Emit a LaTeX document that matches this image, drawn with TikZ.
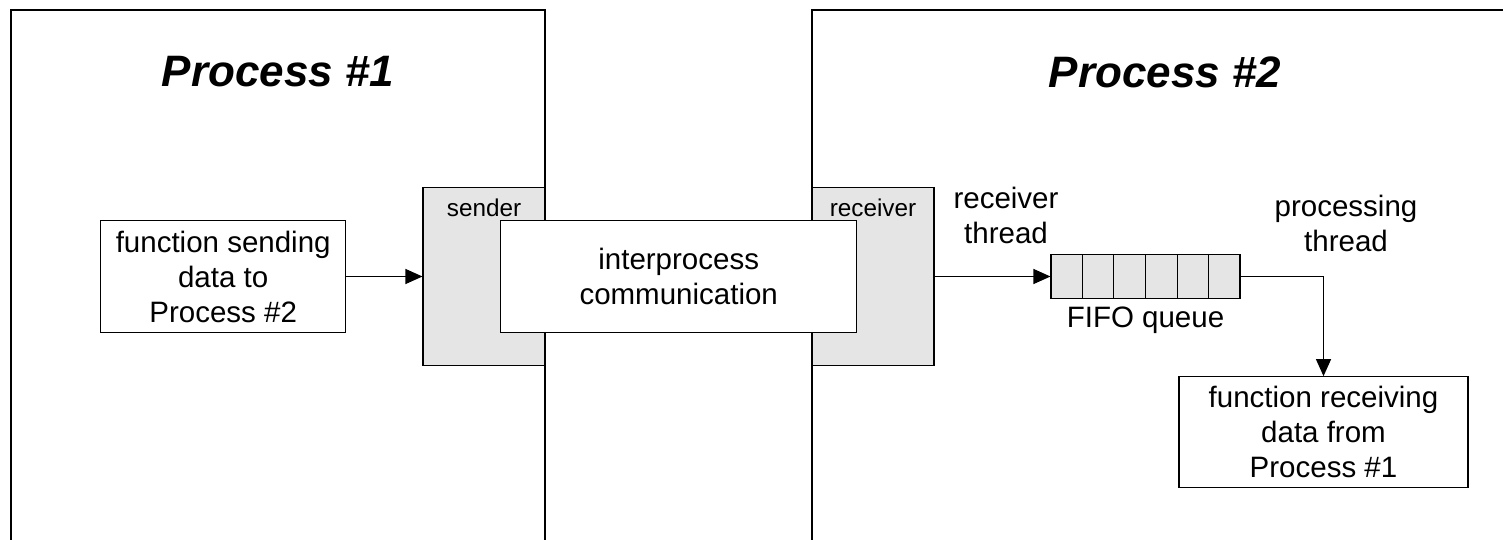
\documentclass[tikz,border=0pt]{standalone}
\usepackage{fontspec}
\setmainfont{Liberation Sans}
\usetikzlibrary{calc, positioning, arrows.meta}

\tikzset{
	frame/.style={line width=1.2pt},
	func/.style={draw, line width=1.1pt, fill=white, align=center, inner sep=0pt, font=\fontsize{29.5}{35}\selectfont},
	port/.style={draw, line width=1.1pt, fill=gray!20, inner sep=0pt},
	lbl/.style={inner sep=0pt, align=center, font=\fontsize{29.5}{35}\selectfont},
	small/.style={inner sep=0pt, font=\fontsize{24.3}{28}\selectfont},
	title/.style={inner sep=0pt, font=\fontsize{44}{50}\selectfont\bfseries\itshape},
	conn/.style={line width=1.1pt, -{Triangle[length=17pt, width=15pt]}}
}

\begin{document}
\begin{tikzpicture}[x=1pt, y=-1pt]
		\def\ytop{10};
		\def\ybot{540};
		\def\ymid{276.5};
		\useasboundingbox (0,0) rectangle (1503,540);

		% the two processes
		\draw[frame] (11,\ybot) -- (11,\ytop) -- (545,\ytop) -- (545,\ybot);
		\draw[frame] (812,\ybot) -- (812,\ytop) -- (1503,\ytop);
		\node[title] (p1) at (278,72) {Process \#1};
		\node[title] (p2) at (1165,72) {Process \#2};

		% sender / receiver ports
		\node[port, minimum width=122pt, minimum height=178pt] (sbox) at (484,\ymid) {};
		\node[port, minimum width=122pt, minimum height=178pt] (rbox) at (873,\ymid) {};
		\node[small, below=12pt of sbox.north] (slbl) {sender};
		\node[small, below=12pt of rbox.north] (rlbl) {receiver};

		\node[func, minimum width=356pt, minimum height=111.6pt] (ipc) at (678.7,\ymid) {interprocess\\communication};
		\node[func, minimum width=245pt, minimum height=111.6pt] (send) at (223.2,\ymid) {function sending\\data to\\Process \#2};

		% queue
		\node[port, minimum width=189pt, minimum height=44pt] (fifo) at (1145.5,\ymid) {};
		\foreach \i in {1,...,5}
			\draw[line width=1.1pt] ($(fifo.north west)!\i/6!(fifo.north east)$) -- ($(fifo.south west)!\i/6!(fifo.south east)$);
		\node[lbl, below=8pt of fifo] (flbl) {FIFO queue};

		\node[func, minimum width=289pt, minimum height=110.6pt] (recv) at (1323.5,432) {function receiving\\data from\\Process \#1};

		\node[lbl] (rthr) at (1006,215.6) {receiver\\thread};
		\node[lbl] (pthr) at (1346,223.7) {processing\\thread};

		\draw[conn] (send) -- (sbox);
		\draw[conn] (rbox) -- (fifo);
		\draw[conn] (fifo) -| (recv);
	\end{tikzpicture}
\end{document}
